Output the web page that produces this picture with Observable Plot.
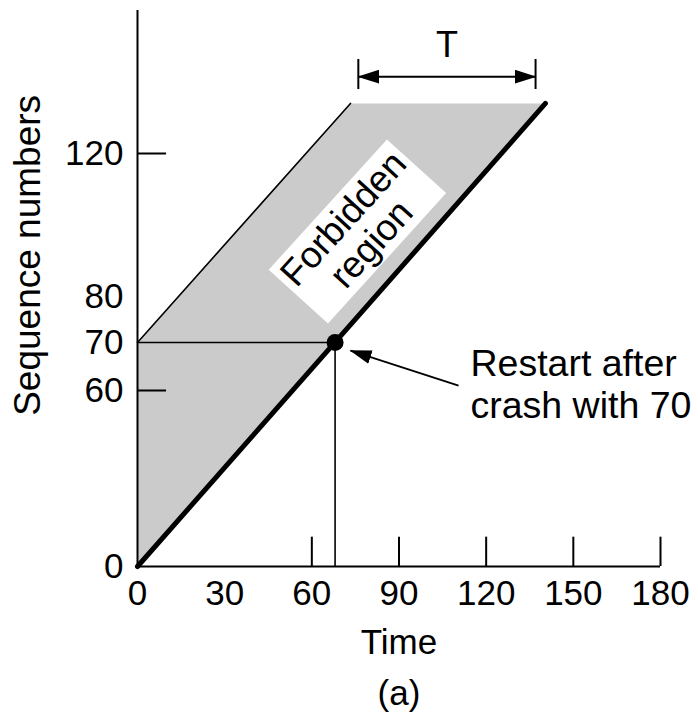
<!DOCTYPE html>
<html><head><meta charset="utf-8">
<script src="https://cdn.jsdelivr.net/npm/d3@7"></script>
<script src="https://cdn.jsdelivr.net/npm/@observablehq/plot@0.6"></script>
<style>body{margin:0;background:#fff} svg{display:block}</style>
</head><body><div id="chart"></div>
<script>
// ---- data ----
const xTickLabels = [0, 30, 60, 90, 120, 150, 180];
const xTickMarks = [60, 90, 120, 150, 180];
const yTickLabels = [0, 60, 70, 80, 120];
const yTickMarks = [60, 120];
const restartPoint = [{time: 68, seq: 70}];
const sequenceLine = [{time: 0, seq: 0}, {time: 140.4, seq: 134}];
const upperBoundary = [{time: 0, seq: 70}, {time: 73.3, seq: 134}];
const forbiddenRegion = [
  {time: 0, seq: 0}, {time: 0, seq: 70}, {time: 73.3, seq: 134},
  {time: 140.4, seq: 134}, {time: 0, seq: 0}
];
const periodT = {start: 76, end: 137, seq: 141.5, barLow: 137.9, barHigh: 146.3, labelSeq: 150.2};
const arrowRestart = [{x1: 110.5, y1: 61, x2: 73.3, y2: 68.3}];
const labels = {
  yTitle: "Sequence numbers", xTitle: "Time", caption: "(a)",
  region: "Forbidden\nregion", restart: "Restart after\ncrash with 70", period: "T"
};

const FONT = "Liberation Sans, Arial, Helvetica, sans-serif";

const plot = Plot.plot({
  width: 698, height: 717,
  marginTop: 0, marginRight: 0, marginBottom: 0, marginLeft: 0,
  style: {fontFamily: FONT, background: "white", color: "black"},
  x: {type: "linear", domain: [0, 180], range: [137, 660], axis: null},
  y: {type: "linear", domain: [0, 60, 70, 80, 120], range: [566, 390, 342, 296, 153], axis: null},
  marks: [
    // gray forbidden region
    Plot.line(forbiddenRegion, {x: "time", y: "seq", fill: "#cbcbcb", stroke: "none", curve: "linear"}),
    // axes
    Plot.ruleX([0], {y1: 0, y2: 160, stroke: "black", strokeWidth: 2}),
    Plot.ruleY([0], {x1: 0, x2: 180, stroke: "black", strokeWidth: 2}),
    Plot.ruleX(xTickMarks, {x: d => d, y1: 0, y2: 10, stroke: "black", strokeWidth: 2}),
    Plot.ruleY(yTickMarks, {y: d => d, x1: 0, x2: 10, stroke: "black", strokeWidth: 2}),
    Plot.text(xTickLabels, {x: d => d, y: 0, text: d => String(d), dy: 27, fontSize: 35, fill: "black", textAnchor: "middle"}),
    Plot.text(yTickLabels, {x: 0, y: d => d, text: d => String(d), dx: -14, fontSize: 35, fill: "black", textAnchor: "end"}),
    // restart guides
    Plot.ruleY(restartPoint, {y: "seq", x1: 0, x2: "time", stroke: "black", strokeWidth: 1.6}),
    Plot.ruleX(restartPoint, {x: "time", y1: 0, y2: "seq", stroke: "black", strokeWidth: 1.6}),
    // boundaries
    Plot.line(upperBoundary, {x: "time", y: "seq", stroke: "black", strokeWidth: 1.6}),
    Plot.line(sequenceLine, {x: "time", y: "seq", stroke: "black", strokeWidth: 5}),
    Plot.dot(restartPoint, {x: "time", y: "seq", r: 8.5, fill: "black"}),
    // annotation arrow
    Plot.link(arrowRestart, {x1: "x1", y1: "y1", x2: "x2", y2: "y2", stroke: "black", strokeWidth: 1.8}),
    // period T dimension
    Plot.link([periodT], {x1: "start", x2: "end", y1: "seq", y2: "seq", stroke: "black", strokeWidth: 2}),
    Plot.ruleX([periodT.start, periodT.end], {x: d => d, y1: periodT.barLow, y2: periodT.barHigh, stroke: "black", strokeWidth: 2}),
    Plot.text([labels.period], {x: (periodT.start + periodT.end) / 2, y: periodT.labelSeq, text: d => d, fontSize: 36, fill: "black"}),
    // texts
    Plot.text([labels.region], {x: 75.7, y: 98.2, text: d => d, rotate: -47.8, fontSize: 37, lineHeight: 1.02, fill: "black", textAnchor: "middle"}),
    Plot.text([labels.restart], {x: 114.6, y: 61.4, text: d => d, fontSize: 37.5, lineHeight: 1.12, fill: "black", textAnchor: "start"}),
    Plot.text([labels.yTitle], {x: -37.5, y: 91.5, text: d => d, rotate: -90, fontSize: 37, fill: "black"}),
    Plot.text([labels.xTitle], {x: 90, y: 0, text: d => d, dy: 76, fontSize: 35, fill: "black"}),
    Plot.text([labels.caption], {x: 90, y: 0, text: d => d, dy: 127, fontSize: 35, fill: "black"})
  ]
});

document.getElementById("chart").appendChild(plot);

// ---- decorations: filled arrowheads and white label box ----
const svg = d3.select(plot);
const defs = svg.insert("defs", ":first-child");
defs.append("marker")
  .attr("id", "ahead").attr("viewBox", "0 0 22 14")
  .attr("refX", 21).attr("refY", 7)
  .attr("markerWidth", 22).attr("markerHeight", 14)
  .attr("markerUnits", "userSpaceOnUse")
  .attr("orient", "auto-start-reverse")
  .append("path").attr("d", "M0,0L22,7L0,14Z").attr("fill", "black");

const linkGroups = svg.selectAll('g[aria-label="link"]').nodes();
if (linkGroups[0]) d3.select(linkGroups[0]).selectAll("path").attr("marker-end", "url(#ahead)");
if (linkGroups[1]) d3.select(linkGroups[1]).selectAll("path").attr("marker-start", "url(#ahead)").attr("marker-end", "url(#ahead)");

svg.selectAll("text").filter(function() { return this.textContent.includes("Forbidden"); })
  .each(function() {
    const node = this;
    d3.select(node.parentNode).insert("rect", () => node)
      .attr("transform", node.getAttribute("transform"))
      .attr("x", -88).attr("y", -40).attr("width", 176).attr("height", 80)
      .attr("fill", "white");
  });
</script>
</body></html>
